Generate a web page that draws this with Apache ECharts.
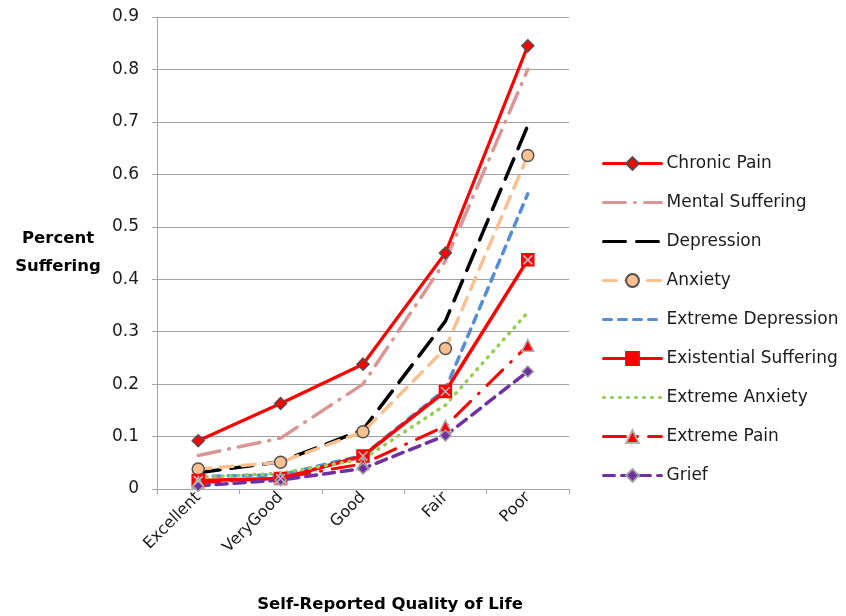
<!DOCTYPE html>
<html>
<head>
<meta charset="utf-8">
<script src="https://cdn.jsdelivr.net/npm/echarts@6/dist/echarts.min.js"></script>
<style>html,body{margin:0;padding:0;background:#fff}#c{width:846px;height:616px}</style>
</head>
<body>
<div id="c"></div>
<script>
var categories = ['Excellent', 'VeryGood', 'Good', 'Fair', 'Poor'];
var yTicks = [0, 0.1, 0.2, 0.3, 0.4, 0.5, 0.6, 0.7, 0.8, 0.9];

var chronicPain = [0.092, 0.163, 0.238, 0.45, 0.845];
var mentalSuffering = [0.064, 0.097, 0.2, 0.435, 0.80];
var depression = [0.031, 0.052, 0.113, 0.32, 0.693];
var anxiety = [0.038, 0.051, 0.109, 0.268, 0.636];
var extremeDepression = [0.024, 0.027, 0.064, 0.19, 0.563];
var existentialSuffering = [0.016, 0.020, 0.063, 0.186, 0.437];
var extremeAnxiety = [0.022, 0.030, 0.057, 0.16, 0.337];
var extremePain = [0.012, 0.021, 0.048, 0.12, 0.274];
var grief = [0.006, 0.017, 0.039, 0.102, 0.224];

var FONT = '"DejaVu Sans", sans-serif';
var diamond = 'path://M5,0L10,5L5,10L0,5Z';
var xPath = 'path://M0,0L10,10M10,0L0,10';

function line(name, data, color, type, width, symbol, size, fill, border) {
  return {
    name: name, type: 'line', data: data,
    lineStyle: { color: color, width: width, type: type, cap: 'round' },
    itemStyle: { color: fill || color, borderColor: border || color, borderWidth: 1.5 },
    symbol: symbol || 'none', symbolSize: size || 0,
    showSymbol: !!symbol, animation: false, z: 2
  };
}

var hidden = { color: 'rgba(0,0,0,0)', borderColor: 'rgba(0,0,0,0)', borderWidth: 0 };

var chart = echarts.init(document.getElementById('c'), null, { renderer: 'canvas' });
chart.setOption({
  backgroundColor: '#ffffff',
  animation: false,
  grid: { left: 157, right: 277, top: 17, bottom: 127, containLabel: false, outerBoundsMode: 'none' },
  legend: {
    orient: 'vertical', left: 597, top: 150,
    itemWidth: 58, itemHeight: 16, itemGap: 22,
    lineStyle: { width: 3 },
    textStyle: { fontFamily: FONT, fontSize: 17, color: '#1a1a1a', lineHeight: 17 },
    data: [
      { name: 'Chronic Pain' },
      { name: 'Mental Suffering', itemStyle: hidden },
      { name: 'Depression', itemStyle: hidden },
      { name: 'Anxiety' },
      { name: 'Extreme Depression', itemStyle: hidden },
      { name: 'Existential Suffering' },
      { name: 'Extreme Anxiety', itemStyle: hidden },
      { name: 'Extreme Pain' },
      { name: 'Grief' }
    ]
  },
  xAxis: {
    type: 'category', data: categories, boundaryGap: true,
    name: 'Self-Reported Quality of Life', nameLocation: 'middle', nameGap: 107,
    nameTextStyle: { fontFamily: FONT, fontSize: 16.5, fontWeight: 'bold', color: '#000', padding: [0, 0, 0, 54] },
    axisLine: { lineStyle: { color: '#a6a6a6', width: 1 } },
    axisTick: { show: true, alignWithLabel: false, length: 5, lineStyle: { color: '#a6a6a6' } },
    axisLabel: { rotate: 45, fontFamily: FONT, fontSize: 16, color: '#1a1a1a', margin: 6 },
    splitLine: { show: false }
  },
  yAxis: {
    type: 'value', min: 0, max: 0.9, interval: 0.1,
    name: 'Percent\nSuffering', nameLocation: 'middle', nameGap: 99, nameRotate: 0,
    nameTextStyle: { fontFamily: FONT, fontSize: 16.5, fontWeight: 'bold', color: '#000', align: 'center', lineHeight: 28, padding: [12, 0, 0, 0] },
    axisLine: { show: true, lineStyle: { color: '#a6a6a6', width: 1 } },
    axisTick: { show: true, length: 5, lineStyle: { color: '#a6a6a6' } },
    axisLabel: { fontFamily: FONT, fontSize: 17, color: '#1a1a1a', margin: 18,
      formatter: function (v) { var t = yTicks.reduce(function (a, b) { return Math.abs(b - v) < Math.abs(a - v) ? b : a; }); return String(t); } },
    splitLine: { show: true, lineStyle: { color: '#a0a0a0', width: 1 } }
  },
  series: [
    line('Chronic Pain', chronicPain, '#ff0000', 'solid', 3.2, diamond, 12, '#ff0000', '#505050'),
    line('Mental Suffering', mentalSuffering, '#d99694', [22, 9, 1, 9], 3.5),
    line('Depression', depression, '#000000', [22, 11], 3.5),
    line('Anxiety', anxiety, '#fac090', [13, 9], 3.5, 'circle', 12, '#fac090', '#505050'),
    line('Extreme Depression', extremeDepression, '#558ed5', [8, 7], 3.5),
    line('Existential Suffering', existentialSuffering, '#ff0000', 'solid', 3.5, 'rect', 12, '#ff0000', '#ff0000'),
    {
      name: 'Existential Suffering', type: 'line', data: existentialSuffering,
      lineStyle: { width: 0, opacity: 0 }, symbol: xPath, symbolSize: 9, showSymbol: true,
      itemStyle: { color: 'none', borderColor: '#b8b8b8', borderWidth: 1.6 },
      z: 3, silent: true, animation: false, legendHoverLink: false
    },
    line('Extreme Anxiety', extremeAnxiety, '#92d050', [1, 7], 3.5),
    line('Extreme Pain', extremePain, '#ff0000', [22, 11, 1, 11], 3, 'triangle', 12, '#ff0000', '#b0b0b0'),
    line('Grief', grief, '#7030a0', [11, 7], 3.5, diamond, 11, '#7030a0', '#a0a0a0')
  ]
});
</script>
</body>
</html>
